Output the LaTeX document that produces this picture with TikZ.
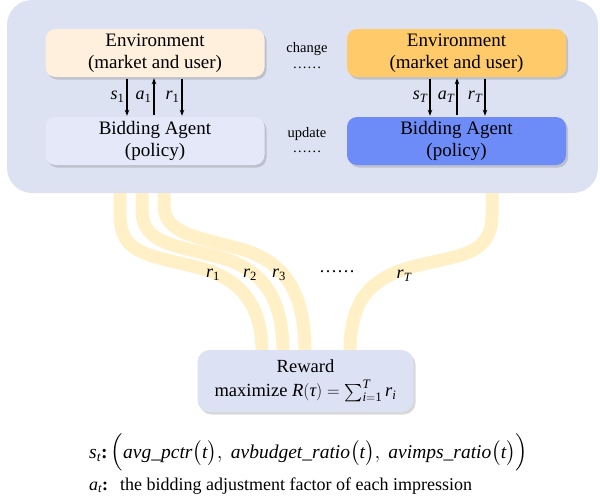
\documentclass[tikz,border=0pt]{standalone}
\usepackage{fontspec}
\usepackage{amsmath}
\setmainfont{Liberation Serif}
\usetikzlibrary{shadows,arrows.meta}
\definecolor{panelc}{RGB}{220,226,242}
\definecolor{envA}{RGB}{254,240,220}
\definecolor{agentA}{RGB}{228,232,249}
\definecolor{envB}{RGB}{255,202,106}
\definecolor{agentB}{RGB}{110,140,247}
\definecolor{rewardc}{RGB}{220,226,243}
\definecolor{ribbonc}{RGB}{255,240,200}
\newcommand{\V}[1]{\textit{#1}}
\begin{document}
\begin{tikzpicture}[x=1pt,y=-1pt,
  boxst/.style={rounded corners=10pt, minimum width=219pt, minimum height=48pt,
    align=center, inner sep=0pt, font=\fontsize{19}{21.5}\selectfont,
    drop shadow={shadow xshift=2pt, shadow yshift=-2.5pt, opacity=0.22, fill=black!70}},
  arr/.style={line width=1.1pt, -{Stealth[length=6pt,width=4.5pt]}, shorten <=1.5pt, shorten >=1pt},
  lbl/.style={font=\fontsize{18}{20}\selectfont, inner sep=2pt},
  small/.style={font=\fontsize{14.5}{16}\selectfont, inner sep=0pt},
  ribbon/.style={draw=ribbonc, line width=13pt}
]
\useasboundingbox (0,0) rectangle (600,501);

% ribbons
\draw[ribbon] (120,185) -- (120,215) .. controls (120,255) and (150,255) .. (200,268) .. controls (245,280) and (262,310) .. (262,352);
\draw[ribbon] (142,185) -- (142,210) .. controls (142,244) and (175,245) .. (222,258) .. controls (268,271) and (283,305) .. (283,352);
\draw[ribbon] (164,185) -- (164,205) .. controls (164,235) and (200,237) .. (244,250) .. controls (290,264) and (305,300) .. (305,352);
\draw[ribbon] (492,185) -- (492,215) .. controls (492,255) and (460,255) .. (415,266) .. controls (370,278) and (350,300) .. (350,352);

% panel
\fill[panelc, rounded corners=25pt] (7,0) rectangle (598,193);

% boxes
\node[boxst, fill=envA] (env1) at (155,53) {Environment\\(market and user)};
\node[boxst, fill=agentA] (agent1) at (155,141) {Bidding Agent\\(policy)};
\node[boxst, fill=envB] (env2) at (456.5,53) {Environment\\(market and user)};
\node[boxst, fill=agentB] (agent2) at (456.5,141) {Bidding Agent\\(policy)};

\node[small] (chg) at (307,49) {change};
\node[small] (chgd) at (307,68) {\textellipsis\textellipsis};
\node[small] (upd) at (307,134) {update};
\node[small] (updd) at (307,152) {\textellipsis\textellipsis};

% arrows left
\draw[arr] ([xshift=-28pt]env1.south) -- node[left,lbl]{$\V{s}_{\text{1}}$} ([xshift=-28pt]agent1.north);
\draw[arr] ([xshift=-1pt]agent1.north) -- node[left,lbl]{$\V{a}_{\text{1}}$} ([xshift=-1pt]env1.south);
\draw[arr] ([xshift=27pt]env1.south) -- node[left,lbl]{$\V{r}_{\text{1}}$} ([xshift=27pt]agent1.north);
% arrows right
\draw[arr] ([xshift=-26.5pt]env2.south) -- node[left,lbl]{$\V{s}_{\V{T}}$} ([xshift=-26.5pt]agent2.north);
\draw[arr] ([xshift=0.5pt]agent2.north) -- node[left,lbl]{$\V{a}_{\V{T}}$} ([xshift=0.5pt]env2.south);
\draw[arr] ([xshift=28.5pt]env2.south) -- node[left,lbl]{$\V{r}_{\V{T}}$} ([xshift=28.5pt]agent2.north);

% ribbon labels
\node[lbl] (r1) at (213,275) {$\V{r}_{\text{1}}$};
\node[lbl] (r2) at (250,275) {$\V{r}_{\text{2}}$};
\node[lbl] (r3) at (279,275) {$\V{r}_{\text{3}}$};
\node[lbl] (rd) at (337,272) {\textellipsis\textellipsis};
\node[lbl] (rT) at (404,276) {$\V{r}_{\V{T}}$};

% reward
\node[rounded corners=12pt, fill=rewardc, minimum width=216pt, minimum height=62pt,
  align=center, inner sep=0pt, font=\fontsize{18.5}{22}\selectfont,
  drop shadow={shadow xshift=2pt, shadow yshift=-2.5pt, opacity=0.22, fill=black!70}]
  (reward) at (305.5,381) {Reward\\[2pt] maximize $\V{R}(\V{τ}) = \textstyle\sum_{\V{i}=\text{1}}^{\V{T}} \V{r}_{\V{i}}$};

% definitions
\node[anchor=base west, inner sep=0pt, font=\fontsize{19.5}{22}\selectfont] (sdef) at (89,458)
  {$\V{s}_{\V{t}}$\textbf{:}\,$\Bigl(\V{avg\_pctr}\bigl(\V{t}\bigr),\ \V{avbudget\_ratio}\bigl(\V{t}\bigr),\ \V{avimps\_ratio}\bigl(\V{t}\bigr)\Bigr)$};
\node[anchor=base west, inner sep=0pt, font=\fontsize{18}{20}\selectfont] (adef) at (89,490)
  {$\V{a}_{\V{t}}$\textbf{:}\hspace{12pt}the bidding adjustment factor of each impression};
\end{tikzpicture}
\end{document}
